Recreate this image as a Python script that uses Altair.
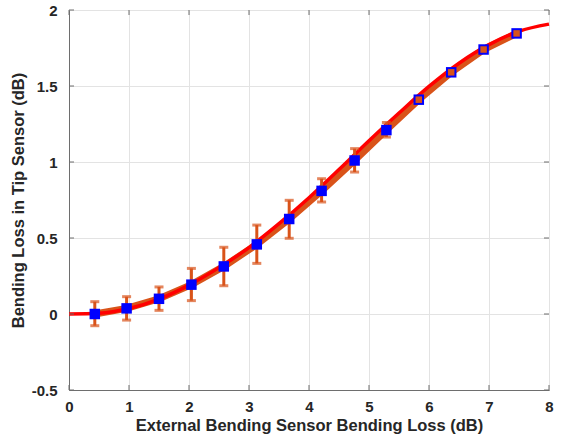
import altair as alt
import pandas as pd

# measured points
x_pts = [0.43, 0.96, 1.50, 2.04, 2.58, 3.13, 3.67, 4.21, 4.76, 5.29, 5.83, 6.37, 6.91, 7.46]
y_pts = [0.000, 0.037, 0.100, 0.193, 0.313, 0.458, 0.625, 0.810, 1.010, 1.210, 1.410, 1.590, 1.740, 1.846]
y_low = [-0.077, -0.040, 0.024, 0.088, 0.186, 0.333, 0.498, 0.737, 0.934, 1.164, 1.395, 1.580, 1.732, 1.838]
y_high = [0.081, 0.114, 0.178, 0.300, 0.439, 0.585, 0.748, 0.890, 1.088, 1.260, 1.425, 1.600, 1.748, 1.854]
orange_fill = [False] * 10 + [True] * 4

# fitted curve
x_fit = [0, 0.5, 1, 1.5, 2, 2.5, 3, 3.5, 4, 4.5, 5, 5.5, 6, 6.5, 7, 7.5, 8]
y_fit = [0, 0.005, 0.036, 0.098, 0.190, 0.305, 0.437, 0.594, 0.765, 0.950, 1.140, 1.322, 1.497, 1.650, 1.772, 1.860, 1.907]

x_ticks = [0, 1, 2, 3, 4, 5, 6, 7, 8]
y_ticks = [-0.5, 0, 0.5, 1, 1.5, 2]

pts = pd.DataFrame({"x": x_pts, "y": y_pts, "lo": y_low, "hi": y_high, "of": orange_fill})
fit = pd.DataFrame({"x": x_fit, "y": y_fit})
xt = pd.DataFrame({"v": x_ticks})
yt = pd.DataFrame({"v": y_ticks})

W, H = 480, 380
FONT = "Liberation Sans"
TXT = "#262626"
AX = "#6e6e6e"
ORANGE = "#D95319"

xs = alt.Scale(domain=[0, 8], nice=False, zero=False)
ys = alt.Scale(domain=[-0.5, 2], nice=False, zero=False)

xaxis = alt.Axis(values=x_ticks, title="External Bending Sensor Bending Loss (dB)", grid=True,
                 gridColor="#e3e3e3", ticks=False, domainColor=AX, domainWidth=1,
                 labelFont=FONT, labelFontSize=15, labelFontWeight="bold", labelColor=TXT,
                 labelPadding=9, titleFont=FONT, titleFontSize=16.5, titleFontWeight="bold",
                 titleColor=TXT, titlePadding=3, labelFlush=False,
                 labelExpr="'' + datum.value")
yaxis = alt.Axis(values=y_ticks, title="Bending Loss in Tip Sensor (dB)", grid=True,
                 gridColor="#e3e3e3", ticks=False, domainColor=AX, domainWidth=1,
                 labelFont=FONT, labelFontSize=15, labelFontWeight="bold", labelColor=TXT,
                 labelPadding=12, titleFont=FONT, titleFontSize=16.5, titleFontWeight="bold",
                 titleColor=TXT, titlePadding=5, labelFlush=False,
                 labelExpr="'' + datum.value")

base_pts = alt.Chart(pts)

orange_line = base_pts.mark_line(color=ORANGE, strokeWidth=7).encode(
    x=alt.X("x:Q", scale=xs, axis=xaxis), y=alt.Y("y:Q", scale=ys, axis=yaxis))

red_line = alt.Chart(fit).mark_line(color="#FF0000", strokeWidth=3.5, interpolate="monotone").encode(
    x=alt.X("x:Q", scale=xs), y=alt.Y("y:Q", scale=ys))

err = base_pts.mark_rule(color=ORANGE, strokeWidth=3).encode(
    x=alt.X("x:Q", scale=xs), y=alt.Y("lo:Q", scale=ys), y2="hi:Q")
cap_lo = base_pts.mark_tick(color=ORANGE, orient="horizontal", size=9, thickness=3).encode(
    x=alt.X("x:Q", scale=xs), y=alt.Y("lo:Q", scale=ys))
cap_hi = base_pts.mark_tick(color=ORANGE, orient="horizontal", size=9, thickness=3).encode(
    x=alt.X("x:Q", scale=xs), y=alt.Y("hi:Q", scale=ys))

blue = base_pts.mark_square(color="#0000FF", size=110, opacity=1).encode(
    x=alt.X("x:Q", scale=xs), y=alt.Y("y:Q", scale=ys))
orange_sq = base_pts.transform_filter("datum.of").mark_square(color=ORANGE, size=42, opacity=1).encode(
    x=alt.X("x:Q", scale=xs), y=alt.Y("y:Q", scale=ys))

# inward ticks on all four sides
tick_b = alt.Chart(xt).mark_rule(color=AX, strokeWidth=1).encode(
    x=alt.X("v:Q", scale=xs), y=alt.value(H), y2=alt.value(H - 5))
tick_t = alt.Chart(xt).mark_rule(color=AX, strokeWidth=1).encode(
    x=alt.X("v:Q", scale=xs), y=alt.value(0), y2=alt.value(5))
tick_l = alt.Chart(yt).mark_rule(color=AX, strokeWidth=1).encode(
    y=alt.Y("v:Q", scale=ys), x=alt.value(0), x2=alt.value(5))
tick_r = alt.Chart(yt).mark_rule(color=AX, strokeWidth=1).encode(
    y=alt.Y("v:Q", scale=ys), x=alt.value(W), x2=alt.value(W - 5))

chart = alt.layer(
    orange_line, red_line, err, cap_lo, cap_hi, blue, orange_sq,
    tick_b, tick_t, tick_l, tick_r
).properties(
    width=W, height=H,
    autosize=alt.AutoSizeParams(type="none"),
    padding={"left": 69, "top": 10, "right": 13, "bottom": 51},
    background="white",
).configure_view(stroke=AX, strokeWidth=1)

chart.save("out.html", embed_options={"renderer": "svg", "actions": False})
